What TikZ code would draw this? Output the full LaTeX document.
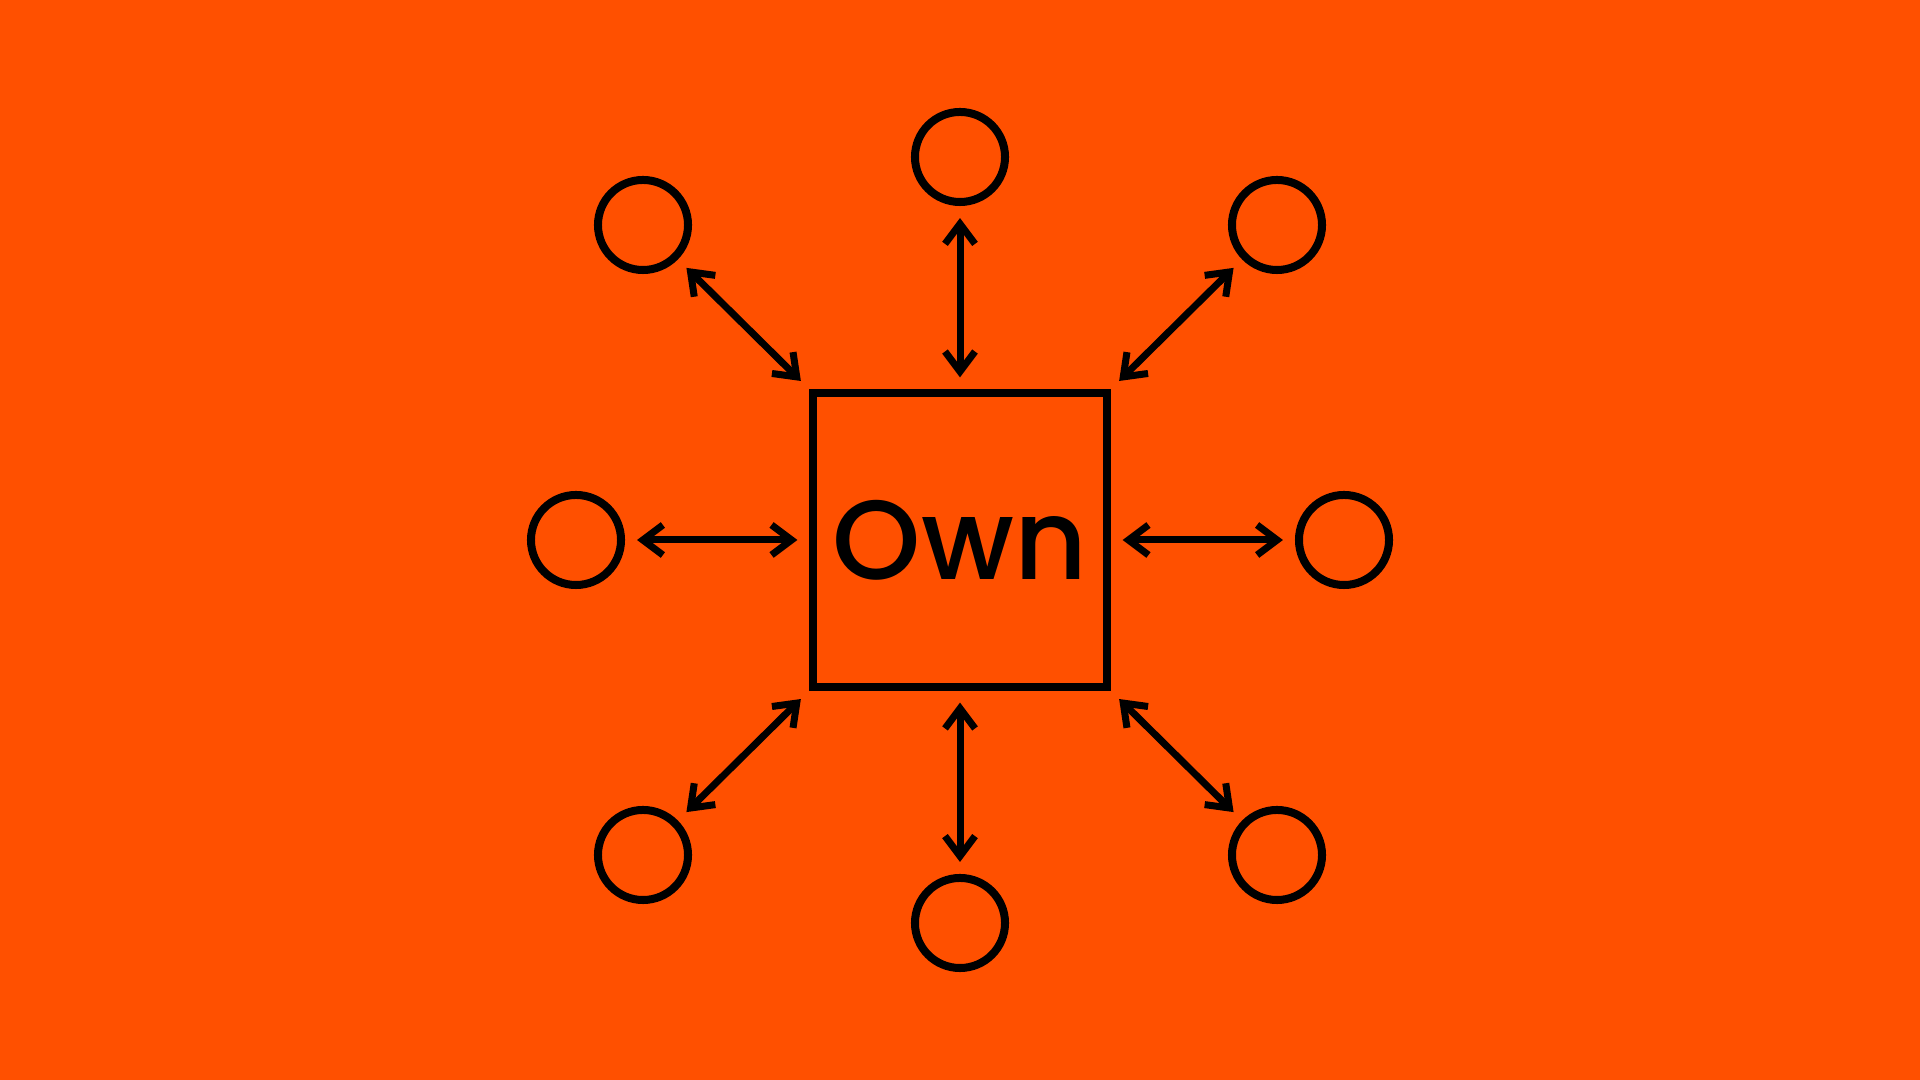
\documentclass[tikz,border=0pt]{standalone}
\usepackage{fontspec}
\setmainfont{Poppins}[UprightFont=* Medium]
\usetikzlibrary{arrows.meta}
\definecolor{bgorange}{RGB}{255,80,0}

\begin{document}
\begin{tikzpicture}[x=0.01cm,y=-0.01cm,
  ring/.style={draw,circle,line width=0.08cm,inner sep=0pt,minimum size=0.9cm},
  link/.style={line width=0.07cm,
    {Straight Barb[length=0.2cm,width=0.3cm,line join=miter,line cap=butt]}-{Straight Barb[length=0.2cm,width=0.3cm,line join=miter,line cap=butt]},
    shorten <=0.12cm,shorten >=0.12cm}]
\fill[bgorange] (0,0) rectangle (1920,1080);
\useasboundingbox (0,0) rectangle (1920,1080);

\node[draw,line width=0.08cm,minimum size=2.93cm,inner sep=0pt,
      font=\fontsize{32}{36}\selectfont] (own) at (960,540) {Own};

% circles round the box
\node[ring] (n)  at (960,157) {};
\node[ring] (s)  at (960,923) {};
\node[ring] (w)  at (576,540) {};
\node[ring] (e)  at (1344,540) {};
\node[ring] (nw) at (643,225) {};
\node[ring] (ne) at (1277,225) {};
\node[ring] (sw) at (643,855) {};
\node[ring] (se) at (1277,855) {};

% double arrows
\draw[link] (own.north) -- (n);
\draw[link] (own.south) -- (s);
\draw[link] (own.west) -- (w);
\draw[link] (own.east) -- (e);
\draw[link] (own.north west) -- (nw);
\draw[link] (own.north east) -- (ne);
\draw[link] (own.south west) -- (sw);
\draw[link] (own.south east) -- (se);
\end{tikzpicture}
\end{document}
